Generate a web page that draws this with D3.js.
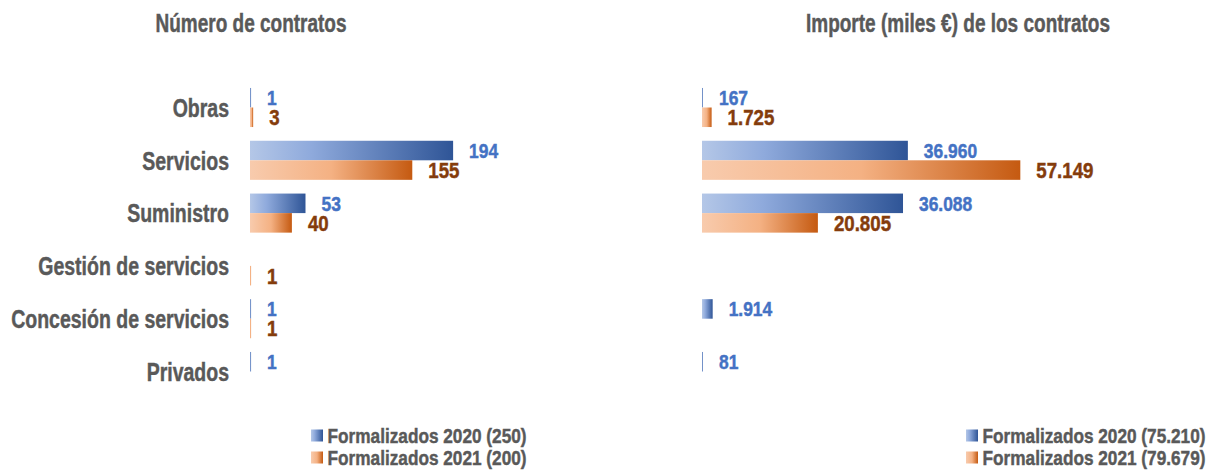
<!DOCTYPE html>
<html>
<head>
<meta charset="utf-8">
<script src="https://cdn.jsdelivr.net/npm/d3@7"></script>
<style>
  body { margin: 0; background: #fff; }
  svg text { font-family: "Liberation Sans", Arial, sans-serif; font-weight: bold; stroke-width: 0.45px; }
</style>
</head>
<body>
<div id="chart-area"></div>
<script>
// DATA

let categories = ["Obras", "Servicios", "Suministro", "Gestión de servicios", "Concesión de servicios", "Privados"];
let series = ["Formalizados 2020", "Formalizados 2021"];

// number of contracts (null = no bar)
let count2020 = [1, 194, 53, null, 1, 1];
let count2021 = [3, 155, 40, 1, 1, null];
let countTotals = [250, 200];

// amount, thousands of euros
let amount2020 = [167, 36960, 36088, null, 1914, 81];
let amount2021 = [1725, 57149, 20805, null, null, null];
let amountTotals = [75210, 79679];

let titles = ["Número de contratos", "Importe (miles €) de los contratos"];

// CHART AREA

let width = 1216, height = 471;

let svg = d3.select("#chart-area")
  .append("svg")
  .attr("width", width)
  .attr("height", height);

let fmt = d3.formatLocale({ decimal: ",", thousands: ".", grouping: [3], currency: ["", "€"] }).format(",d");

// squeeze text horizontally (reference uses a tall narrow bold face)
function narrow(sel, k) {
  sel.each(function() {
    let w = this.getComputedTextLength();
    d3.select(this)
      .attr("textLength", w * k)
      .attr("lengthAdjust", "spacingAndGlyphs");
  });
}

let greyText = "#595959";
let labelColors = ["#4472c4", "#843c0c"];
let labelSizes = [20, 22];
let labelSqueeze = [0.87, 0.85];
let gradStops = [
  [["0%", "#b4c7e7"], ["30%", "#8faadc"], ["100%", "#2f5597"]],
  [["0%", "#f8cbad"], ["50%", "#f4b183"], ["100%", "#c55a11"]]
];

let defs = svg.append("defs");
gradStops.forEach(function(stops, i) {
  let g = defs.append("linearGradient")
    .attr("id", "grad" + i)
    .attr("x1", "0%").attr("x2", "100%")
    .attr("y1", "0%").attr("y2", "0%");
  stops.forEach(function(s) {
    g.append("stop").attr("offset", s[0]).attr("stop-color", s[1]);
  });
});

// shared row scale
let y = d3.scaleBand()
  .domain(categories)
  .range([81.1, 397.9])
  .paddingInner(0.26)
  .paddingOuter(0.13);

let ySub = d3.scaleBand()
  .domain(series)
  .range([0, y.bandwidth()]);

// category labels
svg.append("g")
  .selectAll("text")
  .data(categories)
  .join("text")
  .attr("x", 229)
  .attr("y", function(d) { return y(d) + y.bandwidth() / 2; })
  .attr("dy", "0.36em")
  .attr("text-anchor", "end")
  .attr("fill", greyText)
  .attr("stroke", greyText)
  .style("font-size", "26px")
  .text(function(d) { return d; })
  .call(narrow, 0.75);

function drawPanel(opts) {
  let x = d3.scaleLinear().domain(opts.domain).range(opts.range);
  let g = svg.append("g");

  g.append("text")
    .attr("x", opts.titleX)
    .attr("y", 32)
    .attr("text-anchor", "middle")
    .attr("fill", greyText)
    .attr("stroke", greyText)
    .style("font-size", "25px")
    .text(opts.title)
    .call(narrow, 0.76);

  let rows = [];
  opts.values.forEach(function(vals, s) {
    vals.forEach(function(v, i) {
      if (v == null) return;
      rows.push({ cat: categories[i], s: s, v: v });
    });
  });

  g.selectAll("rect.bar")
    .data(rows)
    .join("rect")
    .attr("class", "bar")
    .attr("x", x(0))
    .attr("y", function(d) { return y(d.cat) + ySub(series[d.s]); })
    .attr("width", function(d) { return Math.max(1, x(d.v) - x(0)); })
    .attr("height", ySub.bandwidth())
    .attr("fill", function(d) { return "url(#grad" + d.s + ")"; });

  g.selectAll("text.val")
    .data(rows)
    .join("text")
    .attr("class", "val")
    .attr("x", function(d) { return Math.max(x(0) + 1, x(d.v)) + 16; })
    .attr("y", function(d) { return y(d.cat) + ySub(series[d.s]) + ySub.bandwidth() / 2; })
    .attr("dy", "0.36em")
    .attr("fill", function(d) { return labelColors[d.s]; })
    .attr("stroke", function(d) { return labelColors[d.s]; })
    .style("font-size", function(d) { return labelSizes[d.s] + "px"; })
    .text(function(d) { return fmt(d.v); })
    .each(function(d) { d3.select(this).call(narrow, labelSqueeze[d.s]); });

  // legend
  let lg = g.append("g")
    .attr("transform", "translate(" + opts.legendX + ",429.5)");
  let item = lg.selectAll("g")
    .data(series)
    .join("g")
    .attr("transform", function(d, i) { return "translate(0," + (i * 22) + ")"; });
  item.append("rect")
    .attr("width", 12).attr("height", 12)
    .attr("fill", function(d, i) { return "url(#grad" + i + ")"; });
  item.append("text")
    .attr("x", 16.5)
    .attr("y", 6)
    .attr("dy", "0.36em")
    .attr("fill", greyText)
    .attr("stroke", greyText)
    .style("font-size", "21px")
    .text(function(d, i) { return d + " (" + fmt(opts.totals[i]) + ")"; })
    .call(narrow, 0.82);
}

drawPanel({
  title: titles[0],
  titleX: 251,
  domain: [0, 200],
  range: [250, 459.4],
  values: [count2020, count2021],
  totals: countTotals,
  legendX: 311
});

drawPanel({
  title: titles[1],
  titleX: 958,
  domain: [0, 60000],
  range: [702, 1036.2],
  values: [amount2020, amount2021],
  totals: amountTotals,
  legendX: 966
});
</script>
</body>
</html>
